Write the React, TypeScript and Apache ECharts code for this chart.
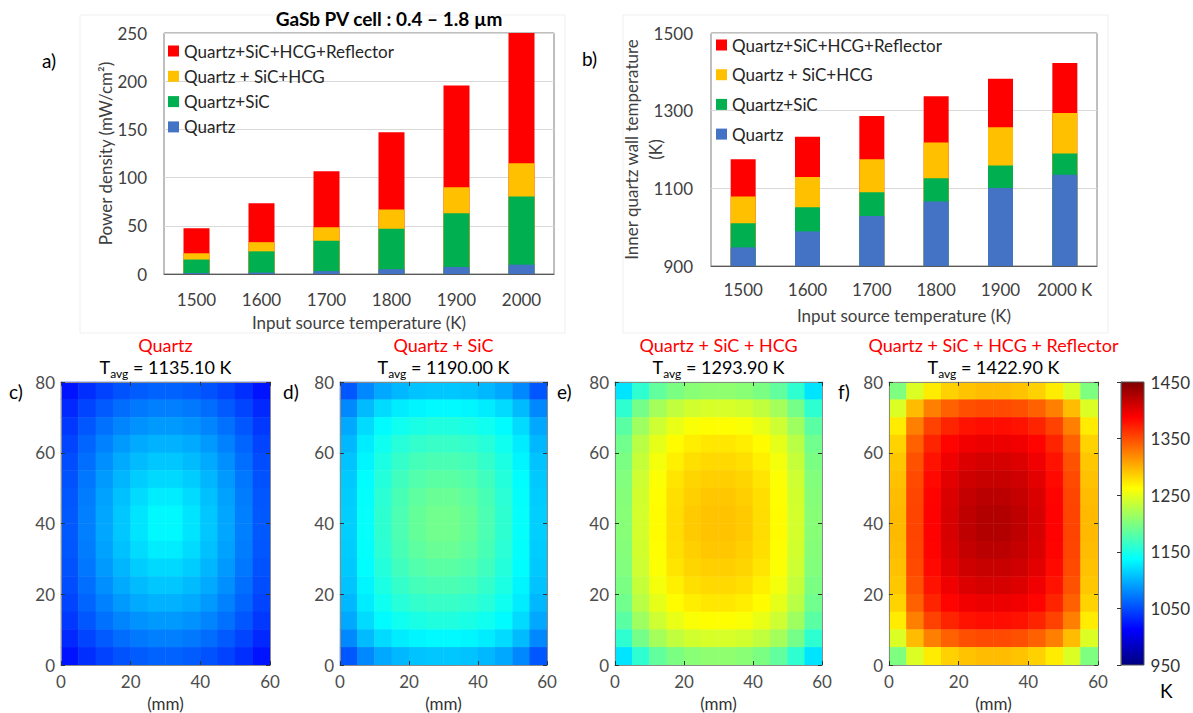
import React, { useEffect, useRef } from 'react';
import * as echarts from 'echarts';

// ---------- data ----------
const sourceTemps = ['1500', '1600', '1700', '1800', '1900', '2000'];
const sourceTempsB = ['1500', '1600', '1700', '1800', '1900', '2000 K'];
const seriesNames = ['Quartz+SiC+HCG+Reflector', 'Quartz + SiC+HCG', 'Quartz+SiC', 'Quartz'];

// a) power density (mW/cm2)
const powerReflector = [47.5, 73.5, 106.5, 147, 195.5, 250];
const powerHCG = [21.5, 33, 48.5, 67, 90, 115];
const powerSiC = [15, 23.5, 34.5, 47, 63, 80.5];
const powerQuartz = [1, 1.5, 3, 5, 7.3, 9.7];

// b) inner quartz wall temperature (K)
const tempReflector = [1175, 1233, 1286, 1337, 1382, 1422.9];
const tempHCG = [1079, 1129, 1175, 1218, 1257, 1293.9];
const tempSiC = [1010, 1051, 1090, 1126, 1159, 1190];
const tempQuartz = [948, 989, 1029, 1066, 1101, 1135.1];

const panelTitles = ['Quartz', 'Quartz + SiC', 'Quartz + SiC + HCG', 'Quartz + SiC + HCG + Reflector'];
const panelAvg = ['1135.10', '1190.00', '1293.90', '1422.90'];
const panelLetters = ['c)', 'd)', 'e)', 'f)'];

// temperature maps, 5 mm cells, rows from top (y = 77.5) to bottom (y = 2.5), cols x = 2.5 .. 57.5
const mapQuartz = [
  [1022, 1035, 1045, 1053, 1058, 1061, 1061, 1058, 1053, 1045, 1035, 1022],
  [1032, 1046, 1057, 1066, 1072, 1075, 1075, 1072, 1066, 1057, 1046, 1032],
  [1040, 1055, 1068, 1078, 1085, 1088, 1088, 1085, 1078, 1068, 1055, 1040],
  [1046, 1062, 1076, 1088, 1096, 1100, 1100, 1096, 1088, 1076, 1062, 1046],
  [1050, 1067, 1083, 1096, 1105, 1110, 1110, 1105, 1096, 1083, 1067, 1050],
  [1053, 1071, 1088, 1102, 1113, 1119, 1119, 1113, 1102, 1088, 1071, 1053],
  [1055, 1074, 1092, 1107, 1120, 1128, 1128, 1120, 1107, 1092, 1074, 1055],
  [1056, 1075, 1094, 1110, 1125, 1134, 1134, 1125, 1110, 1094, 1075, 1056],
  [1056, 1075, 1094, 1110, 1125, 1134, 1134, 1125, 1110, 1094, 1075, 1056],
  [1055, 1074, 1092, 1107, 1120, 1128, 1128, 1120, 1107, 1092, 1074, 1055],
  [1053, 1071, 1088, 1102, 1113, 1119, 1119, 1113, 1102, 1088, 1071, 1053],
  [1050, 1067, 1083, 1096, 1105, 1110, 1110, 1105, 1096, 1083, 1067, 1050],
  [1046, 1062, 1076, 1088, 1096, 1100, 1100, 1096, 1088, 1076, 1062, 1046],
  [1040, 1055, 1068, 1078, 1085, 1088, 1088, 1085, 1078, 1068, 1055, 1040],
  [1032, 1046, 1057, 1066, 1072, 1075, 1075, 1072, 1066, 1057, 1046, 1032],
  [1022, 1035, 1045, 1053, 1058, 1061, 1061, 1058, 1053, 1045, 1035, 1022],
];
const mapSiC = [
  [1055, 1080, 1095, 1103, 1108, 1110, 1110, 1108, 1103, 1095, 1080, 1055],
  [1080, 1105, 1120, 1128, 1133, 1135, 1135, 1133, 1128, 1120, 1105, 1080],
  [1095, 1120, 1136, 1145, 1150, 1153, 1153, 1150, 1145, 1136, 1120, 1095],
  [1103, 1128, 1145, 1156, 1162, 1165, 1165, 1162, 1156, 1145, 1128, 1103],
  [1108, 1133, 1151, 1163, 1171, 1174, 1174, 1171, 1163, 1151, 1133, 1108],
  [1111, 1137, 1155, 1169, 1178, 1182, 1182, 1178, 1169, 1155, 1137, 1111],
  [1113, 1139, 1158, 1173, 1184, 1189, 1189, 1184, 1173, 1158, 1139, 1113],
  [1114, 1140, 1160, 1175, 1187, 1193, 1193, 1187, 1175, 1160, 1140, 1114],
  [1114, 1140, 1160, 1175, 1187, 1193, 1193, 1187, 1175, 1160, 1140, 1114],
  [1113, 1139, 1158, 1173, 1184, 1189, 1189, 1184, 1173, 1158, 1139, 1113],
  [1111, 1137, 1155, 1169, 1178, 1182, 1182, 1178, 1169, 1155, 1137, 1111],
  [1108, 1133, 1151, 1163, 1171, 1174, 1174, 1171, 1163, 1151, 1133, 1108],
  [1103, 1128, 1145, 1156, 1162, 1165, 1165, 1162, 1156, 1145, 1128, 1103],
  [1095, 1120, 1136, 1145, 1150, 1153, 1153, 1150, 1145, 1136, 1120, 1095],
  [1080, 1105, 1120, 1128, 1133, 1135, 1135, 1133, 1128, 1120, 1105, 1080],
  [1055, 1080, 1095, 1103, 1108, 1110, 1110, 1108, 1103, 1095, 1080, 1055],
];
const mapHCG = [
  [1125, 1160, 1185, 1198, 1205, 1208, 1208, 1205, 1198, 1185, 1160, 1125],
  [1160, 1195, 1218, 1232, 1240, 1243, 1243, 1240, 1232, 1218, 1195, 1160],
  [1182, 1215, 1238, 1252, 1260, 1263, 1263, 1260, 1252, 1238, 1215, 1182],
  [1193, 1228, 1250, 1264, 1271, 1274, 1274, 1271, 1264, 1250, 1228, 1193],
  [1198, 1234, 1257, 1270, 1278, 1281, 1281, 1278, 1270, 1257, 1234, 1198],
  [1201, 1238, 1261, 1275, 1283, 1286, 1286, 1283, 1275, 1261, 1238, 1201],
  [1203, 1240, 1263, 1278, 1286, 1290, 1290, 1286, 1278, 1263, 1240, 1203],
  [1204, 1241, 1264, 1279, 1288, 1292, 1292, 1288, 1279, 1264, 1241, 1204],
  [1204, 1241, 1264, 1279, 1288, 1292, 1292, 1288, 1279, 1264, 1241, 1204],
  [1203, 1240, 1263, 1278, 1286, 1290, 1290, 1286, 1278, 1263, 1240, 1203],
  [1201, 1238, 1261, 1275, 1283, 1286, 1286, 1283, 1275, 1261, 1238, 1201],
  [1198, 1234, 1257, 1270, 1278, 1281, 1281, 1278, 1270, 1257, 1234, 1198],
  [1193, 1228, 1250, 1264, 1271, 1274, 1274, 1271, 1264, 1250, 1228, 1193],
  [1182, 1215, 1238, 1252, 1260, 1263, 1263, 1260, 1252, 1238, 1215, 1182],
  [1160, 1195, 1218, 1232, 1240, 1243, 1243, 1240, 1232, 1218, 1195, 1160],
  [1125, 1160, 1185, 1198, 1205, 1208, 1208, 1205, 1198, 1185, 1160, 1125],
];
const mapReflector = [
  [1200, 1245, 1272, 1285, 1292, 1295, 1295, 1292, 1285, 1272, 1245, 1200],
  [1245, 1295, 1325, 1340, 1348, 1351, 1351, 1348, 1340, 1325, 1295, 1245],
  [1272, 1325, 1355, 1370, 1378, 1381, 1381, 1378, 1370, 1355, 1325, 1272],
  [1284, 1340, 1370, 1386, 1394, 1397, 1397, 1394, 1386, 1370, 1340, 1284],
  [1290, 1347, 1378, 1395, 1404, 1408, 1408, 1404, 1395, 1378, 1347, 1290],
  [1293, 1351, 1383, 1401, 1411, 1415, 1415, 1411, 1401, 1383, 1351, 1293],
  [1295, 1353, 1386, 1405, 1416, 1421, 1421, 1416, 1405, 1386, 1353, 1295],
  [1296, 1354, 1387, 1407, 1419, 1425, 1425, 1419, 1407, 1387, 1354, 1296],
  [1296, 1354, 1387, 1407, 1419, 1425, 1425, 1419, 1407, 1387, 1354, 1296],
  [1295, 1353, 1386, 1405, 1416, 1421, 1421, 1416, 1405, 1386, 1353, 1295],
  [1293, 1351, 1383, 1401, 1411, 1415, 1415, 1411, 1401, 1383, 1351, 1293],
  [1290, 1347, 1378, 1395, 1404, 1408, 1408, 1404, 1395, 1378, 1347, 1290],
  [1284, 1340, 1370, 1386, 1394, 1397, 1397, 1394, 1386, 1370, 1340, 1284],
  [1272, 1325, 1355, 1370, 1378, 1381, 1381, 1378, 1370, 1355, 1325, 1272],
  [1245, 1295, 1325, 1340, 1348, 1351, 1351, 1348, 1340, 1325, 1295, 1245],
  [1200, 1245, 1272, 1285, 1292, 1295, 1295, 1292, 1285, 1272, 1245, 1200],
];
const tempMaps = [mapQuartz, mapSiC, mapHCG, mapReflector];

// ---------- styling ----------
const FONT = 'Lato, "Open Sans", sans-serif';
const COLORS = ['#FF0000', '#FFC000', '#00B050', '#4472C4'];
const JET = ['#00007F', '#0000FF', '#007FFF', '#00FFFF', '#7FFF7F', '#FFFF00', '#FF7F00', '#FF0000', '#7F0000'];
const panelLeft = [61, 340, 615, 889];
const panelWidth = [209, 207, 207, 209];
const letterX = [9, 283, 557, 838];
const PANEL_TOP = 382;
const PANEL_H = 283;
const plain = (v: number) => String(v);

function toHeat(rows: number[][]) {
  const out: number[][] = [];
  rows.forEach((row, r) => row.forEach((v, c) => out.push([c, rows.length - 1 - r, v])));
  return out;
}

function buildOption() {
  const grids: any[] = [
    { left: 164, top: 33, width: 390, height: 241, show: true, borderColor: '#7f7f7f', borderWidth: 1 },
    { left: 711, top: 33, width: 386, height: 233, show: true, borderColor: '#7f7f7f', borderWidth: 1 },
  ];
  const xAxes: any[] = [
    {
      type: 'category', gridIndex: 0, data: sourceTemps,
      axisLine: { lineStyle: { color: '#595959' } }, axisTick: { show: false },
      axisLabel: { color: '#404040', fontSize: 17, fontFamily: FONT, margin: 17, interval: 0 },
      name: 'Input source temperature (K)', nameLocation: 'middle', nameGap: 40, nameMoveOverlap: false,
      nameTextStyle: { color: '#404040', fontSize: 17, fontFamily: FONT },
    },
    {
      type: 'category', gridIndex: 1, data: sourceTempsB,
      axisLine: { lineStyle: { color: '#595959' } }, axisTick: { show: false },
      axisLabel: { color: '#404040', fontSize: 17, fontFamily: FONT, margin: 15, interval: 0 },
      name: 'Input source temperature (K)', nameLocation: 'middle', nameGap: 41, nameMoveOverlap: false,
      nameTextStyle: { color: '#404040', fontSize: 17, fontFamily: FONT },
    },
  ];
  const yAxes: any[] = [
    {
      type: 'value', gridIndex: 0, min: 0, max: 250, interval: 50,
      axisLine: { show: false }, axisTick: { show: false },
      splitLine: { lineStyle: { color: '#d9d9d9' } },
      axisLabel: { color: '#404040', fontSize: 17, fontFamily: FONT, margin: 17, formatter: plain },
      name: 'Power density (mW/cm²)', nameLocation: 'middle', nameGap: 50, nameMoveOverlap: false,
      nameTextStyle: { color: '#404040', fontSize: 17, fontFamily: FONT },
    },
    {
      type: 'value', gridIndex: 1, min: 900, max: 1500, interval: 200,
      axisLine: { show: false }, axisTick: { show: false },
      splitLine: { lineStyle: { color: '#d9d9d9' } },
      axisLabel: { color: '#404040', fontSize: 17, fontFamily: FONT, margin: 18, formatter: plain },
      name: 'Inner quartz wall temperature\n(K)', nameLocation: 'middle', nameGap: 44, nameMoveOverlap: false,
      nameTextStyle: { color: '#404040', fontSize: 17, fontFamily: FONT, lineHeight: 24 },
    },
  ];

  const series: any[] = [];
  const aVals = [powerReflector, powerHCG, powerSiC, powerQuartz];
  const bVals = [tempReflector, tempHCG, tempSiC, tempQuartz];
  seriesNames.forEach((n, i) => {
    series.push({
      type: 'bar', name: n, xAxisIndex: 0, yAxisIndex: 0, data: aVals[i],
      barWidth: 26, barGap: '-100%', itemStyle: { color: COLORS[i] }, silent: true,
    });
  });
  seriesNames.forEach((n, i) => {
    series.push({
      type: 'bar', name: n, xAxisIndex: 1, yAxisIndex: 1, data: bVals[i],
      barWidth: 25, barGap: '-100%', itemStyle: { color: COLORS[i] }, silent: true,
    });
  });

  const lineGray = { color: '#8a8a8a', width: 1 };
  const tickDark = { show: true, inside: true, length: 4, lineStyle: { color: '#333', width: 1 } };
  const heatIdx: number[] = [];
  for (let p = 0; p < 4; p++) {
    const g = grids.length;
    grids.push({ left: panelLeft[p], top: PANEL_TOP, width: panelWidth[p], height: PANEL_H });
    const catX = Array.from({ length: 12 }, (_, i) => String(i));
    const catY = Array.from({ length: 16 }, (_, i) => String(i));
    const xi = xAxes.length;
    xAxes.push({ type: 'category', gridIndex: g, data: catX, show: false });
    xAxes.push({
      type: 'value', gridIndex: g, min: 0, max: 60, interval: 20, position: 'bottom', z: 5,
      axisLine: { show: true, lineStyle: lineGray }, axisTick: tickDark, splitLine: { show: false },
      axisLabel: { color: '#4d4d4d', fontSize: 17, fontFamily: FONT, margin: 8 },
      name: '(mm)', nameLocation: 'middle', nameGap: 30, nameMoveOverlap: false,
      nameTextStyle: { color: '#333', fontSize: 17, fontFamily: FONT },
    });
    xAxes.push({
      type: 'value', gridIndex: g, min: 0, max: 60, interval: 20, position: 'top', z: 5,
      axisLine: { show: true, lineStyle: lineGray }, axisTick: tickDark, splitLine: { show: false },
      axisLabel: { show: false },
    });
    const yi = yAxes.length;
    yAxes.push({ type: 'category', gridIndex: g, data: catY, show: false });
    yAxes.push({
      type: 'value', gridIndex: g, min: 0, max: 80, interval: 20, position: 'left', z: 5,
      axisLine: { show: true, lineStyle: lineGray }, axisTick: tickDark, splitLine: { show: false },
      axisLabel: { color: '#4d4d4d', fontSize: 17, fontFamily: FONT, margin: 6 },
    });
    yAxes.push({
      type: 'value', gridIndex: g, min: 0, max: 80, interval: 20, position: 'right', z: 5,
      axisLine: { show: true, lineStyle: lineGray }, axisTick: tickDark, splitLine: { show: false },
      axisLabel: { show: false },
    });
    heatIdx.push(series.length);
    series.push({
      type: 'heatmap', xAxisIndex: xi, yAxisIndex: yi, data: toHeat(tempMaps[p]),
      silent: true, itemStyle: { borderWidth: 0 }, emphasis: { disabled: true },
    });
  }

  // colorbar axis
  const gc = grids.length;
  grids.push({ left: 1121, top: PANEL_TOP, width: 23, height: PANEL_H });
  xAxes.push({ type: 'value', gridIndex: gc, show: false, min: 0, max: 1 });
  yAxes.push({
    type: 'value', gridIndex: gc, min: 950, max: 1450, interval: 100, position: 'right', z: 5,
    axisLine: { show: true, lineStyle: { color: '#555' } }, axisTick: tickDark, splitLine: { show: false },
    axisLabel: { color: '#333', fontSize: 17, fontFamily: FONT, margin: 7, formatter: plain },
  });

  const legendBase = {
    orient: 'vertical', icon: 'rect', itemWidth: 11, itemHeight: 11, padding: 0,
    selectedMode: false, data: seriesNames,
    textStyle: { color: '#262626', fontSize: 17, fontFamily: FONT },
  };

  const text = (x: number, y: number, t: string, size: number, color = '#000', extra: any = {}) => ({
    type: 'text', x, y, z: 20,
    style: { text: t, fill: color, font: `${extra.weight || 'normal'} ${size}px ${FONT}`, align: extra.align || 'left', verticalAlign: 'middle' },
  });

  const graphics: any[] = [
    { type: 'rect', z: 0, shape: { x: 80, y: 15, width: 485, height: 318 }, style: { fill: 'none', stroke: '#efefef' } },
    { type: 'rect', z: 0, shape: { x: 623, y: 15, width: 485, height: 318 }, style: { fill: 'none', stroke: '#efefef' } },
    text(389, 18, 'GaSb PV cell : 0.4 – 1.8 µm', 19, '#000', { weight: 'bold', align: 'center' }),
    text(42, 60, 'a)', 19),
    text(582, 58, 'b)', 19),
    text(1160, 690, 'K', 19),
    {
      type: 'rect', z: 1, shape: { x: 1121, y: PANEL_TOP, width: 23, height: PANEL_H },
      style: {
        fill: new echarts.graphic.LinearGradient(0, 1, 0, 0, JET.map((c, i) => ({ offset: i / (JET.length - 1), color: c }))),
        stroke: '#555', lineWidth: 1,
      },
    },
  ];
  for (let p = 0; p < 4; p++) {
    const cx = panelLeft[p] + panelWidth[p] / 2;
    graphics.push(text(cx, 345, panelTitles[p], 18, '#FF0000', { align: 'center' }));
    graphics.push({
      type: 'text', x: cx, y: 367, z: 20,
      style: {
        text: `{t|T}{s|avg}{t| = ${panelAvg[p]} K}`,
        align: 'center', verticalAlign: 'middle',
        rich: {
          t: { fontSize: 18, fontFamily: FONT, fill: '#000', lineHeight: 22 },
          s: { fontSize: 12, fontFamily: FONT, fill: '#000', lineHeight: 12, padding: [12, 0, 0, 0] },
        },
      },
    });
    graphics.push(text(letterX[p], 391, panelLetters[p], 19));
  }

  return {
    animation: false,
    backgroundColor: '#ffffff',
    textStyle: { fontFamily: FONT },
    grid: grids,
    xAxis: xAxes,
    yAxis: yAxes,
    legend: [
      { ...legendBase, left: 168, top: 42.5, itemGap: 8.3 },
      { ...legendBase, left: 716, top: 36.5, itemGap: 12.7 },
    ],
    visualMap: {
      type: 'continuous', show: false, min: 950, max: 1450, seriesIndex: heatIdx,
      inRange: { color: JET },
    },
    graphic: graphics,
    series,
  };
}

export default function App() {
  const ref = useRef<HTMLDivElement>(null);
  useEffect(() => {
    const chart = echarts.init(ref.current!, null, { renderer: 'svg' });
    chart.setOption(buildOption() as any);
    return () => chart.dispose();
  }, []);
  return (
    <div
      ref={ref}
      style={{ position: 'fixed', left: 0, top: 0, width: 1193, height: 713, background: '#fff' }}
    />
  );
}
